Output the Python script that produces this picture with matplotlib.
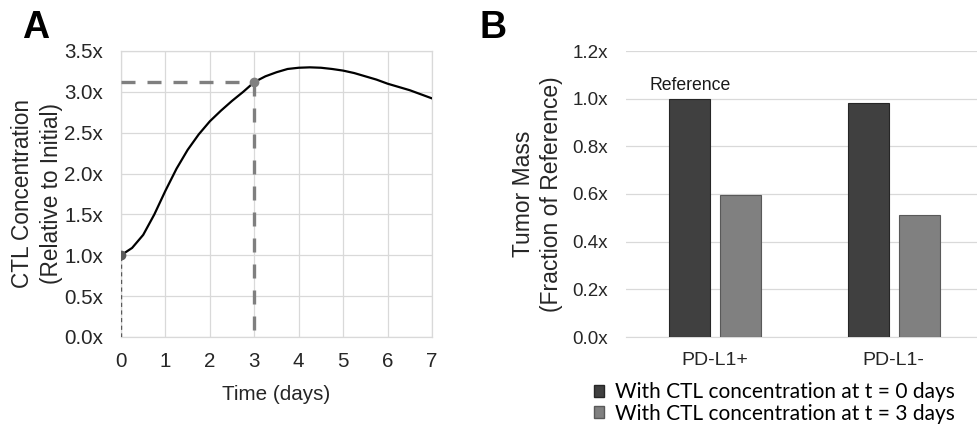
import numpy as np
import matplotlib
matplotlib.use("Agg")
import matplotlib.pyplot as plt
from matplotlib.patches import Patch

plt.rcParams["font.family"] = ["Liberation Sans", "DejaVu Sans"]

# Panel A: CTL concentration over time (relative to day 0)
days = [0, 0.25, 0.5, 0.75, 1.0, 1.25, 1.5, 1.75, 2.0, 2.25, 2.5, 2.75, 3.0,
        3.25, 3.5, 3.75, 4.0, 4.25, 4.5, 4.75, 5.0, 5.25, 5.5, 5.75, 6.0,
        6.25, 6.5, 6.75, 7.0]
ctl_conc = [1.00, 1.09, 1.25, 1.50, 1.79, 2.06, 2.29, 2.48, 2.64, 2.77, 2.89,
            3.00, 3.12, 3.19, 3.24, 3.28, 3.295, 3.30, 3.295, 3.28, 3.26,
            3.23, 3.19, 3.15, 3.10, 3.06, 3.02, 2.97, 2.92]
t_mark = 3
ctl_at_mark = 3.12

# Panel B: tumor mass relative to reference
groups = ["PD-L1+", "PD-L1-"]
mass_t0 = [1.00, 0.98]
mass_t3 = [0.595, 0.513]
series_labels = ["With CTL concentration at t = 0 days",
                 "With CTL concentration at t = 3 days"]

grid_col = "#d9d9d9"
txt_col = "#262626"
fig = plt.figure(figsize=(9.77, 4.34), dpi=100)

# ---- A ----
ax1 = fig.add_axes([121 / 977, 97 / 434, 311 / 977, 286 / 434])
ax1.plot(days, ctl_conc, color="black", lw=1.6, zorder=4)
ax1.plot([0, t_mark], [ctl_at_mark, ctl_at_mark], color="#7f7f7f", lw=2.4,
         dashes=(4.2, 3.6), zorder=3)
ax1.plot([t_mark, t_mark], [ctl_at_mark, 0], color="#7f7f7f", lw=2.4,
         dashes=(4.2, 3.6), zorder=3)
ax1.plot([0, 0], [0, ctl_conc[0]], color="#595959", lw=1.0,
         dashes=(3, 2.5), zorder=3)
ax1.plot([0], [ctl_conc[0]], "o", color="#595959", ms=6, zorder=5)
ax1.plot([t_mark], [ctl_at_mark], "o", color="#808080", ms=6, zorder=5)

ax1.set_xlim(0, 7)
ax1.set_ylim(0, 3.5)
ax1.set_xticks(range(8))
ax1.set_yticks(np.arange(0, 3.51, 0.5))
ax1.set_yticklabels([f"{v:.1f}x" for v in np.arange(0, 3.51, 0.5)])
ax1.grid(True, color=grid_col, lw=0.9)
ax1.set_axisbelow(True)
for s in ax1.spines.values():
    s.set_color(grid_col)
    s.set_linewidth(0.9)
ax1.tick_params(length=0, labelsize=14.8, colors=txt_col)
ax1.tick_params(axis="y", pad=13)
ax1.tick_params(axis="x", pad=11)
ax1.set_xlabel("Time (days)", fontsize=14.9, color=txt_col, labelpad=10)
ax1.set_ylabel("CTL Concentration\n(Relative to Initial)", fontsize=16.3,
               color=txt_col, labelpad=1, linespacing=1.3)

# ---- B ----
ax2 = fig.add_axes([626 / 977, 97 / 434, 357 / 977, 286 / 434])
x = np.arange(len(groups))
w = 0.23
ax2.bar(x - 0.142, mass_t0, w, color="#404040", edgecolor="#262626",
        lw=0.8, label=series_labels[0], zorder=3)
ax2.bar(x + 0.142, mass_t3, w, color="#808080", edgecolor="#595959",
        lw=0.8, label=series_labels[1], zorder=3)
ax2.annotate("Reference", (x[0] - 0.142, mass_t0[0]), xytext=(0, 9.5),
             textcoords="offset points", ha="center", va="center",
             fontsize=12.7, color="#1a1a1a")

ax2.set_xlim(-0.5, 1.5)
ax2.set_ylim(0, 1.2)
ax2.set_xticks(x)
ax2.set_xticklabels(groups)
yt = np.arange(0, 1.21, 0.2)
ax2.set_yticks(yt)
ax2.set_yticklabels([f"{v:.1f}x" for v in yt])
ax2.yaxis.grid(True, color=grid_col, lw=0.9)
ax2.set_axisbelow(True)
for side in ["top", "right", "left"]:
    ax2.spines[side].set_visible(False)
ax2.spines["bottom"].set_color(grid_col)
ax2.tick_params(length=0, labelsize=13.5, colors=txt_col)
ax2.tick_params(axis="y", pad=13)
ax2.tick_params(axis="x", labelsize=14, pad=11)
ax2.set_ylabel("Tumor Mass\n(Fraction of Reference)", fontsize=16.5,
               color=txt_col, labelpad=7, linespacing=1.25)

handles = [Patch(facecolor="#404040", edgecolor="#262626"),
           Patch(facecolor="#808080", edgecolor="#595959")]
fig.legend(handles, series_labels, loc="center left",
           bbox_to_anchor=(594 / 977, 1 - 403 / 434), frameon=False,
           prop={"family": "Lato", "size": 15}, handlelength=0.5,
           handleheight=0.5, handletextpad=0.5, labelspacing=0.06,
           borderpad=0, borderaxespad=0)

fig.text(22 / 977, 1 - 10 / 434, "A", fontsize=27, fontweight="bold",
         va="top", ha="left")
fig.text(479 / 977, 1 - 10 / 434, "B", fontsize=27, fontweight="bold",
         va="top", ha="left")

fig.savefig("out.png", dpi=100)
